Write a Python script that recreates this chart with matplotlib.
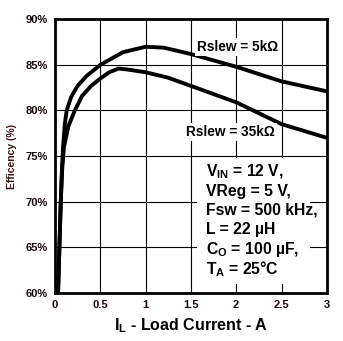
import matplotlib
matplotlib.use("Agg")
import matplotlib.pyplot as plt
from matplotlib.patches import Rectangle

plt.rcParams['font.family'] = ['Liberation Sans', 'DejaVu Sans']
plt.rcParams['font.weight'] = 'bold'
plt.rcParams['mathtext.fontset'] = 'custom'
plt.rcParams['mathtext.rm'] = 'Liberation Sans:bold'
plt.rcParams['mathtext.it'] = 'Liberation Sans:bold'
plt.rcParams['mathtext.bf'] = 'Liberation Sans:bold'

# Efficiency vs load current for two slew resistors
load_5k = [0.035, 0.05, 0.065, 0.08, 0.09, 0.11, 0.13, 0.18, 0.25, 0.35, 0.5,
           0.75, 1.0, 1.2, 1.5, 2.0, 2.5, 3.0]
eff_5k = [60.0, 65.0, 70.0, 74.0, 76.0, 78.5, 80.0, 81.5, 82.7, 83.8, 85.0,
          86.4, 87.0, 86.9, 86.2, 84.8, 83.2, 82.1]

load_35k = [0.035, 0.05, 0.065, 0.08, 0.1, 0.15, 0.22, 0.3, 0.4, 0.5, 0.6,
            0.7, 0.8, 1.0, 1.25, 1.5, 2.0, 2.5, 3.0]
eff_35k = [60.0, 65.0, 70.0, 73.5, 76.0, 78.3, 80.0, 81.6, 82.7, 83.5, 84.2,
           84.6, 84.5, 84.2, 83.6, 82.7, 80.9, 78.5, 77.0]

x_ticks = [0, 0.5, 1, 1.5, 2, 2.5, 3]
x_labels = ['0', '0.5', '1', '1.5', '2', '2.5', '3']
y_ticks = [60, 65, 70, 75, 80, 85, 90]
y_labels = ['60%', '65%', '70%', '75%', '80%', '85%', '90%']

conditions = [
    r'V$_\mathrm{IN}$ = 12 V,',
    'VReg = 5 V,',
    'Fsw = 500 kHz,',
    'L = 22 µH',
    r'C$_\mathrm{O}$ = 100 µF,',
    r'T$_\mathrm{A}$ = 25°C',
]

fig = plt.figure(figsize=(3.43, 3.41), dpi=100)
ax = fig.add_axes([0.160, 0.142, 0.793, 0.801])

ax.plot(load_5k, eff_5k, color='black', lw=2.8, solid_capstyle='butt', zorder=3)
ax.plot(load_35k, eff_35k, color='black', lw=2.8, solid_capstyle='butt', zorder=3)

ax.set_xlim(0, 3)
ax.set_ylim(60, 90)
ax.set_xticks(x_ticks)
ax.set_xticklabels(x_labels, fontweight='bold')
ax.set_yticks(y_ticks)
ax.set_yticklabels(y_labels, fontweight='bold')
ax.tick_params(length=0, labelsize=8, labelcolor='#1a0808')
ax.tick_params(axis='x', pad=5)
ax.tick_params(axis='y', pad=5)
ax.set_axisbelow(True)
ax.grid(True, color='black', lw=0.8)
for sp in ax.spines.values():
    sp.set_linewidth(2.0)

ax.set_xlabel(r'I$_\mathrm{L}$ - Load Current - A', fontsize=11.5,
              fontweight='bold', labelpad=5)
ax.set_ylabel('Efficency (%)', fontsize=7.5, fontweight='bold',
              color='#3c1414', labelpad=6)

# blank out the grid behind the test conditions
ax.add_patch(Rectangle((1.571, 60.99), 1.242, 13.82, facecolor='white',
                       edgecolor='none', zorder=1))
cond_y = [72.76, 70.56, 68.56, 66.44, 64.28, 61.98]
for txt, yy in zip(conditions, cond_y):
    ax.text(1.667, yy, txt, fontsize=11.3, fontweight='bold',
            va='baseline', ha='left', zorder=4)

box = dict(facecolor='white', edgecolor='none', pad=1.5)
ax.text(1.571, 86.58, 'Rslew = 5kΩ', fontsize=9.8, fontweight='bold',
        va='baseline', ha='left', bbox=box, zorder=4)
ax.text(1.45, 77.22, 'Rslew = 35kΩ', fontsize=9.8, fontweight='bold',
        va='baseline', ha='left', bbox=box, zorder=4)

fig.savefig('out.png', dpi=100)
